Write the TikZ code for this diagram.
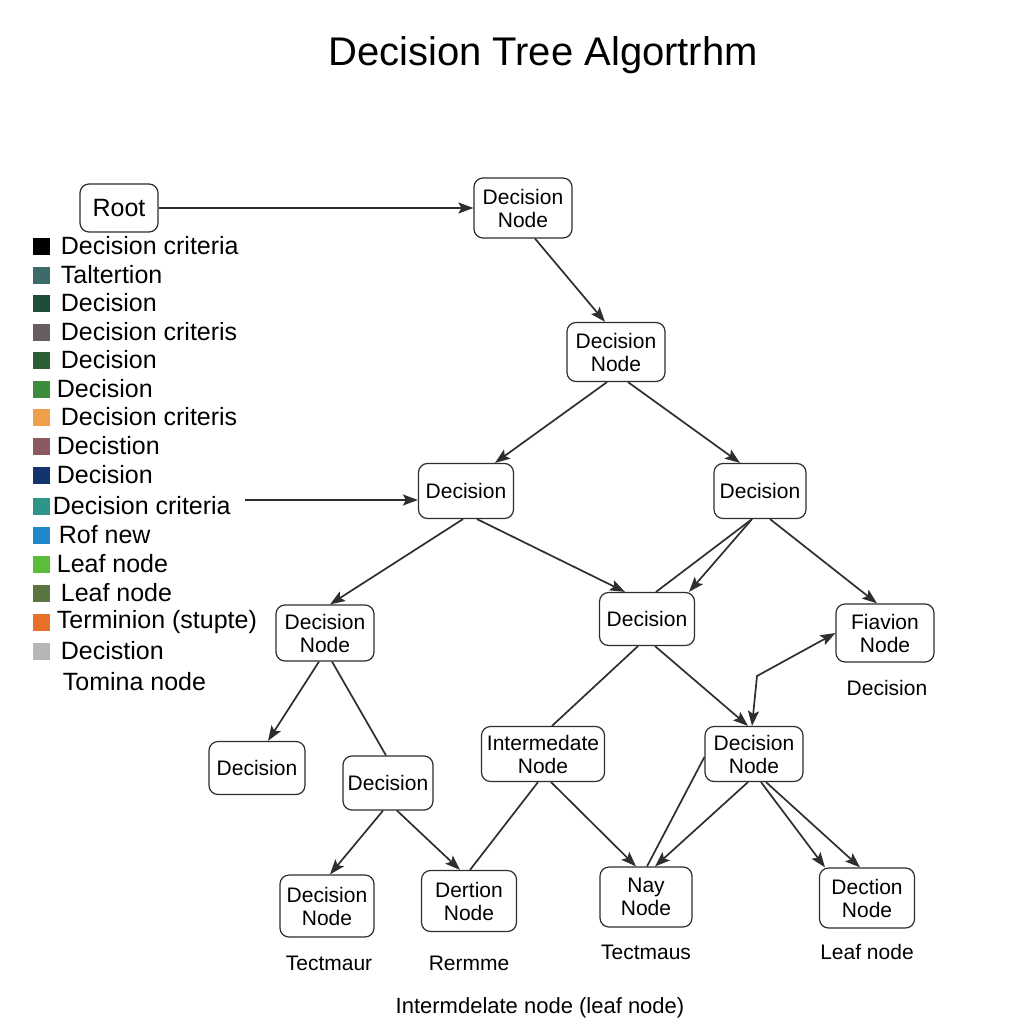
\documentclass[tikz,border=0pt]{standalone}
\usepackage{fontspec}
\setmainfont{Liberation Sans}
\usetikzlibrary{arrows.meta}

\definecolor{edgegray}{HTML}{2E2E2E}
\definecolor{lgA}{HTML}{000000}
\definecolor{lgB}{HTML}{3D6B6B}
\definecolor{lgC}{HTML}{1E4D3A}
\definecolor{lgD}{HTML}{665E63}
\definecolor{lgE}{HTML}{2B5E35}
\definecolor{lgF}{HTML}{3D8C3D}
\definecolor{lgG}{HTML}{F0A04B}
\definecolor{lgH}{HTML}{8C5A5E}
\definecolor{lgI}{HTML}{143470}
\definecolor{lgJ}{HTML}{2E9688}
\definecolor{lgK}{HTML}{1E88C8}
\definecolor{lgL}{HTML}{5CBD3B}
\definecolor{lgM}{HTML}{5A7541}
\definecolor{lgN}{HTML}{E8702A}
\definecolor{lgO}{HTML}{B4B6B8}

\begin{document}
\begin{tikzpicture}[x=1pt, y=-1pt, >={Stealth[length=15pt,width=11pt,inset=3pt]}, line width=1.7pt]
        \tikzstyle{box}=[draw=edgegray, line width=1.2pt, rounded corners=9pt, align=center, fill=white,
                         font=\fontsize{21}{23}\selectfont, inner sep=2pt, minimum width=95pt, minimum height=55pt]
        \tikzstyle{lbl}=[font=\fontsize{21}{23}\selectfont]
        \tikzstyle{edge}=[draw=edgegray]

        \useasboundingbox (0,0) rectangle (1024,1024);

        % Title
        \node[font=\fontsize{40}{42}\selectfont] (title) at (543,55) {Decision Tree Algortrhm};

        % Legend
        \foreach \col/\txt/\yy/\xx in {lgA/Decision criteria/246/60, lgB/Taltertion/275/60,
                lgC/Decision/303/60, lgD/Decision criteris/332/60, lgE/Decision/360/60,
                lgF/Decision/389/56, lgG/Decision criteris/417/60, lgH/Decistion/446/56,
                lgI/Decision/475/56, lgJ/Decision criteria/506/52, lgK/Rof new/535/58,
                lgL/Leaf node/564/56, lgM/Leaf node/593/60, lgN/Terminion (stupte)/622/56,
                lgO/Decistion/651/60} {
            \fill[\col] (33,\yy-8.5) rectangle (50,\yy+8.5);
            \node[anchor=west, inner sep=0pt, font=\fontsize{25}{27}\selectfont] (leg-\yy) at (\xx,\yy) {\txt};
        }
        \node[anchor=west, inner sep=0pt, font=\fontsize{25}{27}\selectfont] (tomina) at (62,682) {Tomina node};

        % Nodes
        \node[box, minimum width=78pt, minimum height=48pt, font=\fontsize{25}{27}\selectfont] (root) at (119,208) {Root};
        \node[box, minimum width=98pt, minimum height=60pt] (n1) at (523,208) {Decision\\Node};
        \node[box, minimum width=98pt, minimum height=59pt] (n2) at (616,352) {Decision\\Node};
        \node[box] (n3) at (466,491) {Decision};
        \node[box, minimum width=92pt] (n4) at (760,491) {Decision};
        \node[box, minimum width=98pt, minimum height=56pt] (n5) at (325,633) {Decision\\Node};
        \node[box, minimum height=53pt] (n6) at (647,619) {Decision};
        \node[box, minimum width=98pt, minimum height=58pt] (n7) at (885,633) {Fiavion\\Node};
        \node[box, minimum width=96pt, minimum height=53pt] (n8) at (257,768) {Decision};
        \node[box, minimum width=90pt, minimum height=54pt] (n9) at (388,783) {Decision};
        \node[box, minimum width=123pt] (n10) at (543,754) {Intermedate\\Node};
        \node[box, minimum width=98pt] (n11) at (754,754) {Decision\\Node};
        \node[box, minimum width=94pt, minimum height=62pt] (n12) at (327,906) {Decision\\Node};
        \node[box, minimum height=61pt] (n13) at (469,901) {Dertion\\Node};
        \node[box, minimum width=92pt, minimum height=60pt] (n14) at (646,897) {Nay\\Node};
        \node[box, minimum height=60pt] (n15) at (867,898) {Dection\\Node};

        % Labels
        \node[lbl] (l7) at (887,688) {Decision};
        \node[lbl] (l12) at (329,963) {Tectmaur};
        \node[lbl] (l13) at (469,963) {Rermme};
        \node[lbl] (l14) at (646,952) {Tectmaus};
        \node[lbl] (l15) at (867,952) {Leaf node};
        \node[font=\fontsize{22}{24}\selectfont] (caption) at (540,1008) {Intermdelate node (leaf node)};

        \coordinate (legend-out) at (245,500);
        \coordinate (kink) at (757,676);

        % Connectors
        \draw[edge, ->] (root) -- (n1);
        \draw[edge, ->] ([xshift=12pt]n1.south) -- ([xshift=-11pt]n2.north);
        \draw[edge, ->] ([xshift=-9pt]n2.south) -- ([xshift=29pt]n3.north);
        \draw[edge, ->] ([xshift=12pt]n2.south) -- ([xshift=-20pt]n4.north);
        \draw[edge, ->] (legend-out) -- ([yshift=-9pt]n3.west);
        \draw[edge, ->] ([xshift=-3pt]n3.south) -- ([xshift=5pt]n5.north);
        \draw[edge, ->] ([xshift=11pt]n3.south) -- ([xshift=-22pt]n6.north);
        \draw[edge] ([xshift=-8pt]n4.south) -- ([xshift=9pt]n6.north);
        \draw[edge, ->] ([xshift=-8pt]n4.south) -- ([xshift=42pt]n6.north);
        \draw[edge, ->] ([xshift=10pt]n4.south) -- ([xshift=-8pt]n7.north);
        \draw[edge] ([xshift=-9pt]n6.south) -- ([xshift=9pt]n10.north);
        \draw[edge, ->] ([xshift=8pt]n6.south) -- ([xshift=-6pt]n11.north);
        \draw[edge, <->] (n7.west) -- (kink) -- ([xshift=-2pt]n11.north);
        \draw[edge, ->] ([xshift=-6pt]n5.south) -- ([xshift=11pt]n8.north);
        \draw[edge] ([xshift=7pt]n5.south) -- ([xshift=-2pt]n9.north);
        \draw[edge, ->] ([xshift=-5pt]n9.south) -- ([xshift=3pt]n12.north);
        \draw[edge, ->] ([xshift=9pt]n9.south) -- ([xshift=-9pt]n13.north);
        \draw[edge] ([xshift=-5pt]n10.south) -- ([xshift=1pt]n13.north);
        \draw[edge, ->] ([xshift=8pt]n10.south) -- ([xshift=-10pt]n14.north);
        \draw[edge, ->] ([xshift=-6pt]n11.south) -- ([xshift=9pt]n14.north);
        \draw[edge] ([yshift=-3pt]n11.west) -- ([xshift=1pt]n14.north);
        \draw[edge, ->] ([xshift=7pt]n11.south) -- ([xshift=-42pt]n15.north);
        \draw[edge, ->] ([xshift=12pt]n11.south) -- ([xshift=-7pt]n15.north);
\end{tikzpicture}
\end{document}
